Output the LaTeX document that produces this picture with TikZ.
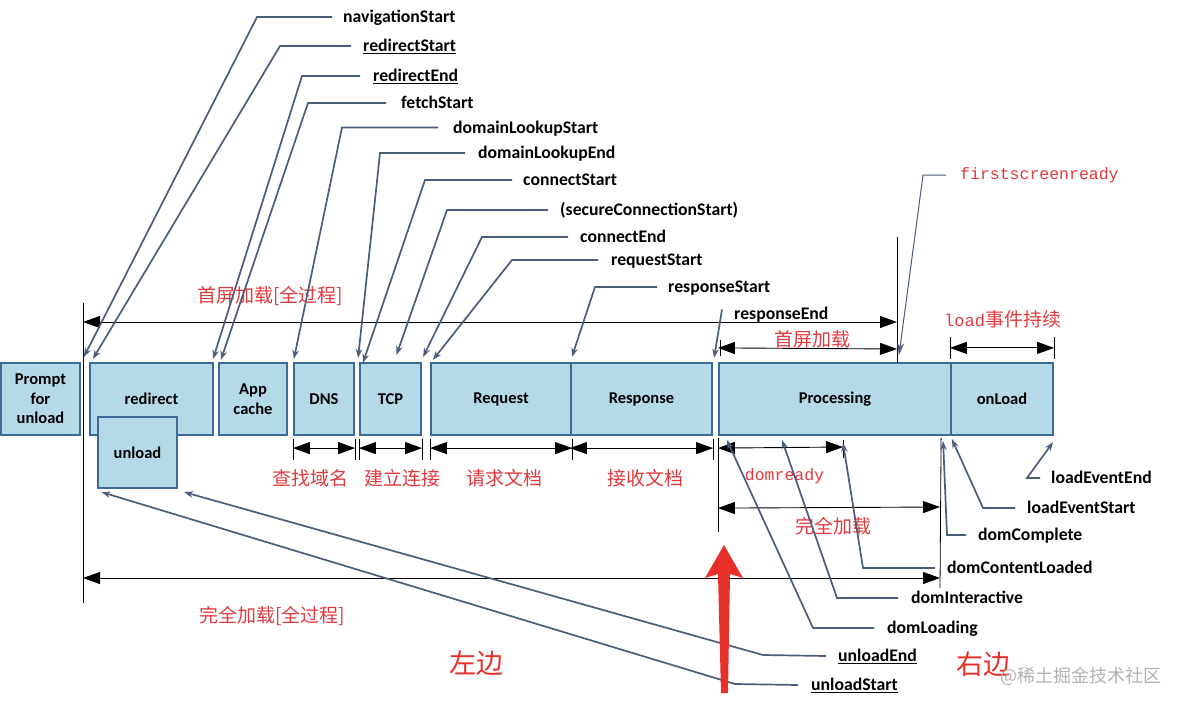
\documentclass[tikz,border=0pt]{standalone}
\usepackage{fontspec}
\setmainfont{Carlito}
\newfontfamily\cjk{Noto Sans CJK SC}
\newfontfamily\mono{Liberation Mono}
\usetikzlibrary{arrows.meta,calc,positioning}
\definecolor{boxfill}{HTML}{B5DAE7}
\definecolor{boxline}{HTML}{3D6A96}
\definecolor{leadline}{HTML}{4A5E7C}
\definecolor{notered}{HTML}{E03A3E}
\definecolor{bigred}{HTML}{E8302A}
\tikzset{spanhead/.tip={Triangle[length=17pt,width=12pt]}}

\begin{document}
\begin{tikzpicture}[x=1pt,y=-1pt,
    stage/.style={draw=boxline,fill=boxfill,line width=2.2pt,minimum height=72pt,inner sep=0pt,align=center,font=\fontsize{16.5}{19.5}\selectfont\bfseries},
    evname/.style={anchor=base west,inner sep=0pt,font=\fontsize{17.7}{20}\selectfont\bfseries},
    lead/.style={draw=leadline,line width=1.7pt,-{Stealth[length=9pt,width=6.5pt]}},
    span/.style={spanhead-spanhead,line width=0.9pt},
    dimline/.style={line width=0.8pt},
    redtxt/.style={text=notered,inner sep=0pt,font=\cjk\fontsize{19}{22}\selectfont},
    redmono/.style={text=notered,inner sep=0pt,font=\mono\fontsize{16.5}{19}\selectfont}]
    \useasboundingbox (0,0) rectangle (1180,706);

    % stages
    \node[stage,minimum width=79pt] (prompt) at (40.5,399) {Prompt\\for\\unload};
    \node[stage,minimum width=123pt] (redirect) at (151.5,399) {redirect};
    \node[stage,minimum width=79pt,minimum height=71pt] (unload) at (137.5,452.5) {unload};
    \node[stage,minimum width=68pt] (appcache) at (253,399) {App\\cache};
    \node[stage,minimum width=60pt] (dns) at (324,399) {DNS};
    \node[stage,minimum width=61pt] (tcp) at (390.5,399) {TCP};
    \node[stage,minimum width=140pt] (request) at (501,399) {Request};
    \node[stage,minimum width=141pt] (response) at (641.5,399) {Response};
    \node[stage,minimum width=232pt] (processing) at (835,399) {Processing};
    \node[stage,minimum width=102pt] (onload) at (1002,399) {onLoad};

    % whole range
    \coordinate (allTop) at (83,303);
    \coordinate (allBot) at (83,603);
    \coordinate (fsrTop) at (897,237);
    \coordinate (endBot) at (940,588);
    \draw[dimline] (allTop) -- (allBot);
    \draw[dimline] (fsrTop) -- (897,363);
    \draw[dimline] ($(processing.south east)+(-11,2)$) -- (endBot);
    \draw[dimline] ($(processing.south west)+(0,2)$) -- ++(0,94);
    \draw[span] (83,322) -- (897,322);
    \draw[span] (83,578) -- (940,578);
    \node[redtxt,anchor=west] (firstall) at (197,296) {首屏加载[全过程]};
    \node[redtxt,anchor=west] (fullall) at (199,616) {完全加载[全过程]};

    % first screen
    \draw[dimline] ($(processing.north west)+(2,-22)$) -- ++(0,16);
    \draw[span] ($(processing.north west)+(0,-14)$) -- (897,349);
    \node[redtxt] (firstpart) at (812,339) {首屏加载};
    \node[redmono,anchor=west] (fsready) at (960,175) {firstscreenready};
    \draw[lead,line width=1pt,-{Stealth[length=12pt,width=7pt]}] ([xshift=-14pt]fsready.west) -- (923,175) -- (899,355);

    % onload
    \draw[dimline] ($(onload.north west)+(0,-25)$) -- ++(0,22);
    \draw[dimline] ($(onload.north east)+(0,-25)$) -- ++(0,22);
    \draw[span] ($(onload.north west)+(0,-14)$) -- ($(onload.north east)+(0,-14)$);
    \node[redtxt,anchor=west] (loadlast) at (944,319) {{\mono\fontsize{17}{20}\selectfont load}事件持续};

    % network phases
    \draw[dimline] ($(dns.south west)+(0,3)$) -- ++(0,21);
    \draw[dimline] ($(dns.south east)+(0,3)$) -- ++(0,21);
    \draw[span] ($(dns.south west)+(0,12)$) -- ($(dns.south east)+(0,12)$);
    \draw[dimline] ($(tcp.south west)+(0,3)$) -- ++(0,21);
    \draw[dimline] ($(tcp.south east)+(0,3)$) -- ++(0,21);
    \draw[span] ($(tcp.south west)+(0,12)$) -- ($(tcp.south east)+(0,12)$);
    \draw[dimline] ($(request.south west)+(0,3)$) -- ++(0,21);
    \draw[dimline] ($(request.south east)+(0,3)$) -- ++(0,21);
    \draw[span] ($(request.south west)+(0,12)$) -- ($(request.south east)+(0,12)$);
    \draw[dimline] ($(response.south east)+(0,3)$) -- ++(0,21);
    \draw[span] ($(response.south west)+(0,12)$) -- ($(response.south east)+(0,12)$);
    \node[redtxt] (dnstxt) at (310,478) {查找域名};
    \node[redtxt] (tcptxt) at (402,478) {建立连接};
    \node[redtxt] (reqtxt) at (504,478) {请求文档};
    \node[redtxt] (restxt) at (645,478) {接收文档};

    % dom ready
    \coordinate (rdyEnd) at (843,447);
    \draw[dimline] (843,440) -- (843,458);
    \draw[span] ($(processing.south west)+(0,12)$) -- (rdyEnd);
    \node[redmono] (domready) at (784.5,476) {domready};
    \draw[span] ($(processing.south west)+(0,72)$) -- (940,507);
    \node[redtxt] (fullpart) at (833,526) {完全加载};

    % top events
    \node[evname] (navS) at (343,22.5) {navigationStart};
    \node[evname] (redS) at (363,51.5) {\underline{redirectStart}};
    \node[evname] (redE) at (373,81.5) {\underline{redirectEnd}};
    \node[evname] (fetS) at (401,108.5) {fetchStart};
    \node[evname] (dlS) at (453,133) {domainLookupStart};
    \node[evname] (dlE) at (478,158.5) {domainLookupEnd};
    \node[evname] (conS) at (523,185.5) {connectStart};
    \node[evname] (secS) at (560,215.5) {(secureConnectionStart)};
    \node[evname] (conE) at (580,242.5) {connectEnd};
    \node[evname] (reqS) at (611,265.5) {requestStart};
    \node[evname] (resS) at (668,292.5) {responseStart};
    \node[evname] (resE) at (734,319.5) {responseEnd};

    \draw[lead] ([xshift=-11pt,yshift=5.5pt]navS.base west) -- (257,17) -- ([shift={(-5,-5)}]redirect.north west);
    \draw[lead] ([xshift=-12pt,yshift=5.5pt]redS.base west) -- (280,46) -- ([shift={(4,-3)}]redirect.north west);
    \draw[lead] ([xshift=-13pt,yshift=5.5pt]redE.base west) -- (302,76) -- ([shift={(-1,-3)}]redirect.north east);
    \draw[lead] ([xshift=-15pt,yshift=5.5pt]fetS.base west) -- (308,103) -- ([shift={(3,-2)}]appcache.north west);
    \draw[lead] ([xshift=-15pt,yshift=5.5pt]dlS.base west) -- (342,127.5) -- ([shift={(1,-3)}]dns.north west);
    \draw[lead] ([xshift=-13pt,yshift=5.5pt]dlE.base west) -- (380,153) -- ([shift={(3,-4)}]dns.north east);
    \draw[lead] ([xshift=-11pt,yshift=5.5pt]conS.base west) -- (425,180) -- ([shift={(4,1)}]tcp.north west);
    \draw[lead] ([xshift=-12pt,yshift=5.5pt]secS.base west) -- (447,210) -- ([shift={(6,-7)}]tcp.north);
    \draw[lead] ([xshift=-12pt,yshift=5.5pt]conE.base west) -- (482,237) -- ([shift={(1,-5)}]tcp.north east);
    \draw[lead] ([xshift=-13pt,yshift=5.5pt]reqS.base west) -- (512,260) -- ([shift={(3,-2)}]request.north west);
    \draw[lead] ([xshift=-11pt,yshift=5.5pt]resS.base west) -- (595,287) -- ([shift={(2,-5)}]response.north west);
    \draw[lead] ([xshift=-12pt,yshift=10pt]resE.base west) -- ([shift={(1,-4)}]response.north east);

    % bottom events
    \node[evname] (ldEE) at (1051,483.5) {loadEventEnd};
    \node[evname] (ldES) at (1027,513.5) {loadEventStart};
    \node[evname] (dCom) at (978,540.5) {domComplete};
    \node[evname] (dCL) at (947,573.5) {domContentLoaded};
    \node[evname] (dInt) at (911,603.5) {domInteractive};
    \node[evname] (dLoad) at (887,633.5) {domLoading};
    \node[evname] (unE) at (838,661.5) {\underline{unloadEnd}};
    \node[evname] (unS) at (811,690.5) {\underline{unloadStart}};

    \draw[lead] ([xshift=-11pt,yshift=5.5pt]ldEE.base west) -- (1027,478) -- ([shift={(-1,6)}]onload.south east);
    \draw[lead] ([xshift=-12pt,yshift=5.5pt]ldES.base west) -- (983,508) -- ([shift={(2,3)}]onload.south west);
    \draw[lead] ([xshift=-12pt,yshift=5.5pt]dCom.base west) -- (947,535) -- ([shift={(-9,5)}]processing.south east);
    \draw[lead] ([xshift=-12pt,yshift=5.5pt]dCL.base west) -- (863,568) -- ([yshift=4pt]rdyEnd);
    \draw[lead] ([xshift=-13pt,yshift=5.5pt]dInt.base west) -- (837,598) -- ([shift={(-53,4)}]processing.south);
    \draw[lead] ([xshift=-13pt,yshift=5.5pt]dLoad.base west) -- (813,628) -- ([shift={(9,4)}]processing.south west);
    \draw[lead] ([xshift=-12pt,yshift=5.5pt]unE.base west) -- (763,655) -- ([shift={(6,3)}]unload.south east);
    \draw[lead] ([xshift=-13pt,yshift=5.5pt]unS.base west) -- (735,684) -- ([shift={(-36,3)}]unload.south);

    % sides
    \node[text=bigred,inner sep=0pt,font=\cjk\fontsize{27}{30}\selectfont] (leftside) at (476,663) {左边};
    \node[text=bigred,inner sep=0pt,font=\cjk\fontsize{27}{30}\selectfont] (rightside) at (983,664) {右边};
    \node[text=black!30,inner sep=0pt,anchor=west,font=\cjk\fontsize{18}{20}\selectfont] (wmark) at (1000,676) {@稀土掘金技术社区};
    \fill[bigred] (724,545) -- (743,578) -- (730,574) -- (728,693) -- (721,693) -- (718,574) -- (705,578) -- cycle;
\end{tikzpicture}
\end{document}
